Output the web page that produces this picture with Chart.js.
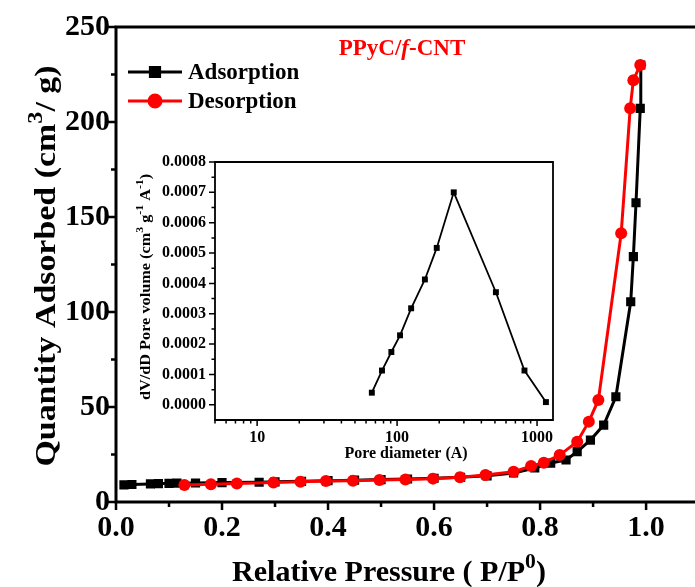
<!DOCTYPE html>
<html>
<head>
<meta charset="utf-8">
<script src="https://cdn.jsdelivr.net/npm/chart.js@4.4.0/dist/chart.umd.min.js"></script>
<style>
  html, body { margin: 0; padding: 0; background: #fff; }
  #wrap { position: relative; width: 695px; height: 587px; overflow: hidden; }
  #main { position: absolute; left: 0; top: 0; }
  #inset { position: absolute; left: 120px; top: 140px; }
</style>
</head>
<body>
<div id="wrap">
  <canvas id="main" width="695" height="587"></canvas>
  <canvas id="inset" width="445" height="330"></canvas>
</div>
<script>
// isotherm
const adsP = [0.015, 0.03, 0.065, 0.08, 0.10, 0.115, 0.15, 0.20, 0.27, 0.30, 0.35, 0.40, 0.45, 0.50, 0.55, 0.60, 0.65, 0.70, 0.75, 0.79, 0.82, 0.849, 0.870, 0.895, 0.920, 0.943, 0.971, 0.976, 0.981, 0.989, 0.990];
const adsQ = [9.0, 9.2, 9.5, 9.7, 9.8, 9.9, 10.0, 10.2, 10.4, 10.6, 10.9, 11.2, 11.5, 11.8, 12.1, 12.5, 13.0, 13.8, 15.3, 17.9, 20.5, 22.1, 26.5, 32.6, 40.5, 55.4, 105.4, 129.1, 157.5, 207.2, 230.0];
const desP = [0.129, 0.179, 0.228, 0.297, 0.348, 0.396, 0.447, 0.497, 0.546, 0.598, 0.649, 0.697, 0.750, 0.783, 0.807, 0.837, 0.870, 0.892, 0.910, 0.953, 0.970, 0.976, 0.989];
const desQ = [8.9, 9.3, 9.7, 10.2, 10.6, 11.0, 11.2, 11.6, 11.9, 12.3, 13.0, 14.2, 15.9, 18.9, 20.7, 24.7, 31.7, 42.3, 53.7, 141.4, 207.2, 222.0, 230.0];

// pore size distribution (inset)
const poreD = [66, 78, 91, 105, 126, 158, 192, 254, 508, 813, 1157];
const poreV = [0.00004, 0.000113, 0.000174, 0.000229, 0.000318, 0.000413, 0.000517, 0.0007, 0.000371, 0.000113, 0.000009];

// tick labels
const pressureTicks = [0, 0.2, 0.4, 0.6, 0.8, 1.0];
const quantityTicks = [0, 50, 100, 150, 200, 250];
const poreTicks = [10, 100, 1000];
const volumeTicks = [0, 0.0001, 0.0002, 0.0003, 0.0004, 0.0005, 0.0006, 0.0007, 0.0008];

const SERIF = '"Liberation Serif", "Times New Roman", serif';

// majors plus a minor halfway between each pair
function withHalves(majors) {
    const out = [];
    majors.forEach((v, i) => {
        out.push({ value: v, major: true });
        if (i < majors.length - 1) out.push({ value: (v + majors[i + 1]) / 2, major: false });
    });
    return out;
}
function logTicks(min, max) {
    const out = [];
    for (let e = 0; e <= 4; e++) {
        for (let m = 1; m <= 9; m++) {
            const v = m * Math.pow(10, e);
            if (v >= min && v <= max) out.push({ value: v, major: m === 1 });
        }
    }
    return out;
}

// text with superscripts / italics; sx stretches along the text direction
function drawRich(ctx, parts, cx, cy, size, rot, color, sx) {
    ctx.save();
    ctx.translate(cx, cy);
    if (rot) ctx.rotate(rot);
    ctx.scale(sx || 1, 1);
    ctx.fillStyle = color;
    ctx.textBaseline = 'alphabetic';
    const fontFor = p => (p.italic ? 'italic ' : '') + 'bold ' + (p.sup ? size * 0.72 : size) + 'px ' + SERIF;
    let total = 0;
    parts.forEach(p => { ctx.font = fontFor(p); p.w = ctx.measureText(p.t).width; total += p.w; });
    let x = -total / 2;
    parts.forEach(p => {
        ctx.font = fontFor(p);
        ctx.fillText(p.t, x, p.sup ? -size * 0.45 : 0);
        x += p.w;
    });
    ctx.restore();
}

// frame + tick marks drawn through the scales
function framePlugin(cfg) {
    return {
        id: 'frame',
        afterDraw(chart) {
            const ctx = chart.ctx;
            const a = chart.chartArea;
            const xs = chart.scales.x, ys = chart.scales.y;
            ctx.save();
            ctx.strokeStyle = '#000';
            ctx.lineWidth = cfg.width;
            ctx.lineCap = 'square';
            ctx.beginPath();
            ctx.moveTo(a.left, a.bottom); ctx.lineTo(cfg.right ? a.right : chart.width, a.bottom);
            ctx.moveTo(a.left, a.bottom); ctx.lineTo(a.left, a.top);
            ctx.moveTo(a.left, a.top); ctx.lineTo(cfg.right ? a.right : chart.width, a.top);
            if (cfg.right) { ctx.moveTo(a.right, a.top); ctx.lineTo(a.right, a.bottom); }
            ctx.stroke();
            ctx.lineCap = 'butt';
            ctx.lineWidth = cfg.tickWidth;
            ctx.beginPath();
            xs.ticks.forEach(t => {
                const px = xs.getPixelForValue(t.value);
                const len = t.major ? cfg.major : cfg.minor;
                ctx.moveTo(px, a.bottom); ctx.lineTo(px, a.bottom + len);
            });
            ys.ticks.forEach(t => {
                const py = ys.getPixelForValue(t.value);
                const len = t.major ? cfg.major : cfg.minor;
                ctx.moveTo(a.left, py); ctx.lineTo(a.left - len, py);
            });
            ctx.stroke();
            ctx.restore();
            cfg.texts(ctx, a);
        }
    };
}

const legendPlugin = {
    id: 'sideLegend',
    afterDraw(chart) {
        const ctx = chart.ctx;
        const rows = [72, 101];
        chart.data.datasets.forEach((ds, i) => {
            const y = rows[i];
            ctx.save();
            ctx.strokeStyle = ds.borderColor;
            ctx.fillStyle = ds.borderColor;
            ctx.lineWidth = ds.borderWidth;
            ctx.beginPath(); ctx.moveTo(128, y); ctx.lineTo(182, y); ctx.stroke();
            Chart.helpers.drawPoint(ctx, { pointStyle: ds.pointStyle, radius: ds.pointRadius, borderWidth: 1, rotation: 0 }, 155, y);
            ctx.fillStyle = '#000';
            ctx.font = 'bold 23px ' + SERIF;
            ctx.textBaseline = 'middle';
            ctx.fillText(ds.label, 188, y + 1);
            ctx.restore();
        });
    }
};

const mainChart = new Chart(document.getElementById('main'), {
    type: 'line',
    data: {
        datasets: [
            {
                label: 'Adsorption',
                data: adsP.map((p, i) => ({ x: p, y: adsQ[i] })),
                borderColor: '#000', backgroundColor: '#000',
                borderWidth: 3, pointStyle: 'rect', pointRadius: 6.5,
                pointBorderWidth: 0, tension: 0, order: 1
            },
            {
                label: 'Desorption',
                data: desP.map((p, i) => ({ x: p, y: desQ[i] })),
                borderColor: '#ff0000', backgroundColor: '#ff0000',
                borderWidth: 3, pointStyle: 'circle', pointRadius: 6,
                pointBorderWidth: 0, tension: 0, order: 0
            }
        ]
    },
    options: {
        responsive: false,
        animation: false,
        layout: { padding: { left: 0, right: 1, top: 27, bottom: 0 } },
        plugins: { legend: { display: false }, tooltip: { enabled: false } },
        scales: {
            x: {
                type: 'linear', min: 0, max: 1.08,
                grid: { display: false, drawTicks: false },
                border: { display: false },
                afterBuildTicks: s => { s.ticks = withHalves(pressureTicks); },
                afterFit: s => { s.height = 85; },
                ticks: {
                    autoSkip: false, maxRotation: 0, padding: 8, color: '#000',
                    font: { family: SERIF, size: 30, weight: 'bold' },
                    callback: (v) => pressureTicks.includes(v) ? v.toFixed(1) : ''
                }
            },
            y: {
                type: 'linear', min: 0, max: 250,
                grid: { display: false, drawTicks: false },
                border: { display: false },
                afterBuildTicks: s => { s.ticks = withHalves(quantityTicks); },
                afterFit: s => { s.width = 116; },
                ticks: {
                    autoSkip: false, padding: 6, color: '#000',
                    font: { family: SERIF, size: 30, weight: 'bold' },
                    callback: (v) => quantityTicks.includes(v) ? String(v) : ''
                }
            }
        }
    },
    plugins: [framePlugin({
        width: 3, tickWidth: 2.5, major: 8, minor: 5, right: false,
        texts: (ctx, a) => {
            drawRich(ctx, [{ t: 'PPyC/' }, { t: 'f', italic: true }, { t: '-CNT' }], 402, 55, 23, 0, '#ff0000');
            drawRich(ctx, [{ t: 'Relative Pressure ( P/P' }, { t: '0', sup: true }, { t: ')' }], 389, 581, 30, 0, '#000');
            drawRich(ctx, [{ t: 'Quantity Adsorbed (cm' }, { t: '3', sup: true }, { t: '/ g)' }], 55, 266, 30, -Math.PI / 2, '#000', 1.13);
        }
    }), legendPlugin]
});

const insetChart = new Chart(document.getElementById('inset'), {
    type: 'line',
    data: {
        datasets: [{
            label: 'PSD',
            data: poreD.map((d, i) => ({ x: d, y: poreV[i] })),
            borderColor: '#000', backgroundColor: '#000',
            borderWidth: 1.8, pointStyle: 'rect', pointRadius: 4.2,
            pointBorderWidth: 0, tension: 0
        }]
    },
    options: {
        responsive: false,
        animation: false,
        layout: { padding: { left: 0, right: 12, top: 22, bottom: 0 } },
        plugins: { legend: { display: false }, tooltip: { enabled: false } },
        scales: {
            x: {
                type: 'logarithmic', min: 5, max: 1300,
                grid: { display: false, drawTicks: false },
                border: { display: false },
                afterBuildTicks: s => { s.ticks = logTicks(5, 1300); },
                afterFit: s => { s.height = 50; },
                ticks: {
                    autoSkip: false, maxRotation: 0, padding: 8, color: '#000',
                    font: { family: SERIF, size: 16, weight: 'bold' },
                    callback: (v) => poreTicks.includes(v) ? String(v) : ''
                }
            },
            y: {
                type: 'linear', min: -0.00005, max: 0.0008,
                grid: { display: false, drawTicks: false },
                border: { display: false },
                afterBuildTicks: s => { s.ticks = withHalves(volumeTicks); },
                afterFit: s => { s.width = 95; },
                ticks: {
                    autoSkip: false, padding: 9, color: '#000',
                    font: { family: SERIF, size: 16, weight: 'bold' },
                    callback: (v) => volumeTicks.includes(v) ? v.toFixed(4) : ''
                }
            }
        }
    },
    plugins: [framePlugin({
        width: 1.8, tickWidth: 1.5, major: 6, minor: 3.5, right: true,
        texts: (ctx, a) => {
            drawRich(ctx, [{ t: 'Pore diameter (A)' }], 286, 318, 16, 0, '#000');
            drawRich(ctx, [{ t: 'dV/dD Pore volume (cm' }, { t: '3', sup: true }, { t: ' g' }, { t: '-1', sup: true }, { t: ' A' }, { t: '-1', sup: true }, { t: ')' }], 30, 147, 15.5, -Math.PI / 2, '#000', 1.05);
        }
    })]
});
</script>
</body>
</html>
